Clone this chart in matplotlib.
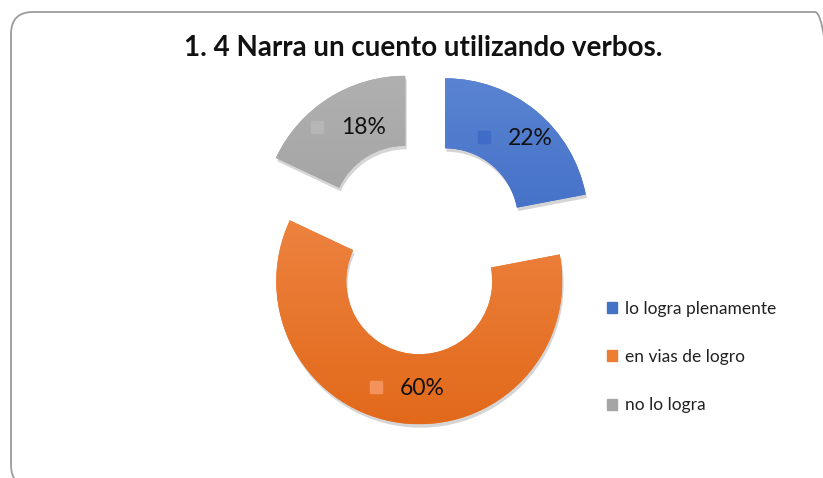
import numpy as np
import matplotlib
matplotlib.use("Agg")
import matplotlib.pyplot as plt
from matplotlib.patches import FancyBboxPatch, Rectangle
from matplotlib.colors import LinearSegmentedColormap
import matplotlib.patheffects as pe

# data
categories = ["lo logra plenamente", "en vias de logro", "no lo logra"]
values = [22, 60, 18]
title = "1. 4 Narra un cuento utilizando verbos."

# style
top_colors = ["#5A84D2", "#F18C4E", "#B0B0B0"]
bottom_colors = ["#2E5DBD", "#E2691A", "#959595"]
face_colors = ["#4472C4", "#ED7D31", "#A5A5A5"]
chip_colors = ["#3F6CC6", "#F3925A", "#B6B6B6"]

W, H = 823, 478
fig = plt.figure(figsize=(W / 100, H / 100), dpi=100)
ax = fig.add_axes([0, 0, 1, 1])
ax.set_xlim(0, W)
ax.set_ylim(0, H)
ax.axis("off")

# rounded chart border (right/bottom run off the image)
border = FancyBboxPatch((11, H - 487), 826, 475,
                        boxstyle="round,pad=0,rounding_size=22",
                        fill=False, edgecolor="#9c9c9c", lw=1.3)
ax.add_patch(border)

cx, cy = 423.5, H - 247.5
R, ring = 143, 70
wedges, _ = ax.pie(values, center=(cx, cy), radius=R, startangle=90,
                   counterclock=False, explode=[34] * len(values),
                   colors=face_colors, frame=True,
                   wedgeprops=dict(width=ring, linewidth=0))

grad = np.linspace(0, 1, 256).reshape(-1, 1)
for w, c_top, c_bot in zip(wedges, top_colors, bottom_colors):
    w.set_path_effects([pe.SimplePatchShadow(offset=(1, -2.5), alpha=0.22,
                                             shadow_rgbFace="#444444"),
                        pe.Normal()])
    x0, y0 = w.center
    cmap = LinearSegmentedColormap.from_list("g", [c_bot, c_top])
    im = ax.imshow(grad, cmap=cmap, origin="lower", aspect="auto",
                   extent=(x0 - R, x0 + R, y0 - R, y0 + R), zorder=w.get_zorder())
    im.set_clip_path(w)

# data labels: small key chip + percentage, centred on the ring
for w, v, chip in zip(wedges, values, chip_colors):
    mid = np.deg2rad((w.theta1 + w.theta2) / 2)
    rm = R - ring / 2
    lx = w.center[0] + rm * np.cos(mid)
    ly = w.center[1] + rm * np.sin(mid)
    ax.add_patch(Rectangle((lx - 36, ly - 5), 12, 12, color=chip, zorder=5))
    ax.text(lx - 6, ly, f"{v}%", ha="left", va="center", fontsize=16.5,
            family="Lato", color="#111111", zorder=6)

ax.set_xlim(0, W)
ax.set_ylim(0, H)

ax.text(423.5, H - 48, title, ha="center", va="center", fontsize=20,
        family="Lato", fontweight="bold", color="#111111")

handles = [Rectangle((0, 0), 1, 1, color=c) for c in face_colors]
leg = ax.legend(handles, categories, loc="center left",
                bbox_to_anchor=(607 / W, (H - 357) / H), frameon=False,
                prop=dict(family="Lato", size=12.5), handlelength=0.6,
                handleheight=0.6, handletextpad=0.45, labelspacing=1.87,
                borderpad=0, borderaxespad=0)
for t in leg.get_texts():
    t.set_color("#222222")

fig.savefig("out.png", dpi=100)
